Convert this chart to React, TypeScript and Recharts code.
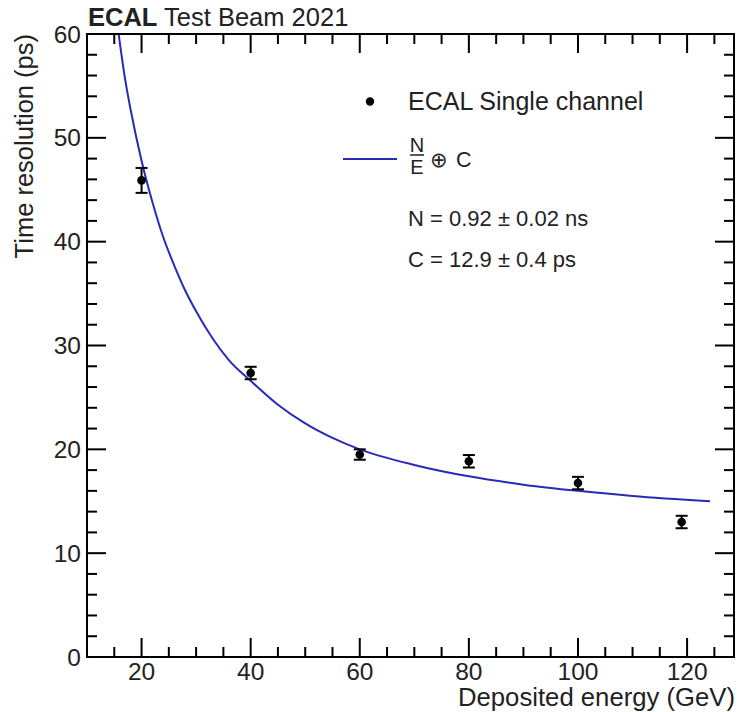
import React from "react";
import {
  ComposedChart,
  Line,
  Scatter,
  ErrorBar,
  XAxis,
  YAxis,
  Customized,
} from "recharts";

// Measured points: deposited energy (GeV), time resolution (ps), uncertainty (ps)
const energies = [20, 40, 60, 80, 100, 119];
const resolution = [45.9, 27.35, 19.5, 18.85, 16.75, 13.0];
const resolutionErr = [1.2, 0.6, 0.5, 0.6, 0.6, 0.6];

// Fitted N/E (+) C curve, sampled along the energy axis
const fitEnergy = [15.8, 17, 18, 20, 22, 24, 26, 28, 30, 33, 36, 40, 45, 50, 55, 60, 70, 80, 90, 100, 110, 124.2];
const fitResolution = [60, 55.6, 52.7, 47.8, 43.8, 40.4, 37.7, 35.3, 33.3, 30.7, 28.6, 26.6, 24.3, 22.5, 21.1, 20.0, 18.5, 17.4, 16.6, 16.0, 15.5, 15.0];

// Axis ticks (ROOT style: majors labelled, minors unlabelled)
const xTicks = [15, 20, 25, 30, 35, 40, 45, 50, 55, 60, 65, 70, 75, 80, 85, 90, 95, 100, 105, 110, 115, 120, 125];
const xMajorTicks = [20, 40, 60, 80, 100, 120];
const yTicks = [0, 2, 4, 6, 8, 10, 12, 14, 16, 18, 20, 22, 24, 26, 28, 30, 32, 34, 36, 38, 40, 42, 44, 46, 48, 50, 52, 54, 56, 58, 60];
const yMajorTicks = [0, 10, 20, 30, 40, 50, 60];

const points = energies.map((e, i) => ({ e, t: resolution[i], err: resolutionErr[i] }));
const fit = fitEnergy.map((e, i) => ({ e, t: fitResolution[i] }));

const FONT = "'Liberation Sans', Arial, Helvetica, sans-serif";
const TEXT = "#222";
const FIT_COLOR = "#2a2ab8";
const MAJOR = 19;
const MINOR = 10;

const BottomTick = (props: any) => {
  const { x, y, payload } = props;
  const major = xMajorTicks.includes(payload.value);
  return (
    <g>
      <line x1={x} x2={x} y1={y} y2={y - (major ? MAJOR : MINOR)} stroke="#000" strokeWidth={2} />
      {major && (
        <text x={x} y={y + 23} textAnchor="middle" fontSize={24.5} fontFamily={FONT} fill={TEXT}>
          {payload.value}
        </text>
      )}
    </g>
  );
};

const TopTick = (props: any) => {
  const { x, y, payload } = props;
  const major = xMajorTicks.includes(payload.value);
  return <line x1={x} x2={x} y1={y} y2={y + (major ? MAJOR : MINOR)} stroke="#000" strokeWidth={2} />;
};

const LeftTick = (props: any) => {
  const { x, y, payload } = props;
  const major = yMajorTicks.includes(payload.value);
  return (
    <g>
      <line x1={x} x2={x + (major ? MAJOR : MINOR)} y1={y} y2={y} stroke="#000" strokeWidth={2} />
      {major && (
        <text x={x - 6} y={y + 8.5} textAnchor="end" fontSize={24.5} fontFamily={FONT} fill={TEXT}>
          {payload.value}
        </text>
      )}
    </g>
  );
};

const RightTick = (props: any) => {
  const { x, y, payload } = props;
  const major = yMajorTicks.includes(payload.value);
  return <line x1={x} x2={x - (major ? MAJOR : MINOR)} y1={y} y2={y} stroke="#000" strokeWidth={2} />;
};

const Dot = (props: any) => {
  const { cx, cy } = props;
  return <circle cx={cx} cy={cy} r={4.3} fill="#000" />;
};

// Title, axis titles and legend box
const Annotations = () => (
  <g fontFamily={FONT} fill={TEXT}>
    <text x={88} y={26} fontSize={25.5}>
      <tspan fontWeight="bold">ECAL</tspan>
      <tspan> Test Beam 2021</tspan>
    </text>
    <text x={33} y={34} fontSize={25.5} textAnchor="end" transform="rotate(-90, 33, 34)">
      Time resolution (ps)
    </text>
    <text x={735} y={706} fontSize={25.7} textAnchor="end">
      Deposited energy (GeV)
    </text>

    <circle cx={370} cy={101.5} r={4.2} fill="#000" />
    <text x={408} y={110} fontSize={25}>
      ECAL Single channel
    </text>

    <line x1={343} x2={397} y1={159} y2={159} stroke={FIT_COLOR} strokeWidth={2} />
    <text x={417} y={152} fontSize={20} textAnchor="middle">N</text>
    <line x1={410} x2={424} y1={155} y2={155} stroke={TEXT} strokeWidth={1.5} />
    <text x={417} y={174} fontSize={20} textAnchor="middle">E</text>
    <text x={430} y={167} fontSize={21} fontFamily="'DejaVu Sans', sans-serif">⊕</text>
    <text x={456} y={167} fontSize={21.5}>C</text>

    <text x={408} y={226} fontSize={22}>N = 0.92 ± 0.02 ns</text>
    <text x={408} y={267} fontSize={22}>C = 12.9 ± 0.4 ps</text>
  </g>
);

export default function App() {
  const axisLine = { stroke: "#000", strokeWidth: 2, strokeLinecap: "square" as const };
  return (
    <div style={{ position: "absolute", left: 0, top: 0, background: "#fff" }}>
      <ComposedChart width={748} height={712} margin={{ top: 33, right: 13, bottom: 54, left: 86 }}>
        <XAxis
          xAxisId="bottom"
          type="number"
          dataKey="e"
          domain={[10, 128.6]}
          allowDataOverflow
          ticks={xTicks}
          interval={0}
          height={1}
          tickSize={0}
          tickMargin={0}
          tickLine={false}
          axisLine={axisLine}
          tick={<BottomTick />}
        />
        <XAxis
          xAxisId="top"
          orientation="top"
          type="number"
          dataKey="e"
          domain={[10, 128.6]}
          allowDataOverflow
          ticks={xTicks}
          interval={0}
          height={1}
          tickSize={0}
          tickMargin={0}
          tickLine={false}
          axisLine={axisLine}
          tick={<TopTick />}
        />
        <YAxis
          yAxisId="left"
          type="number"
          domain={[0, 60]}
          allowDataOverflow
          ticks={yTicks}
          interval={0}
          width={1}
          tickSize={0}
          tickMargin={0}
          tickLine={false}
          axisLine={axisLine}
          tick={<LeftTick />}
        />
        <YAxis
          yAxisId="right"
          orientation="right"
          type="number"
          domain={[0, 60]}
          allowDataOverflow
          ticks={yTicks}
          interval={0}
          width={1}
          tickSize={0}
          tickMargin={0}
          tickLine={false}
          axisLine={axisLine}
          tick={<RightTick />}
        />
        <Line
          xAxisId="bottom"
          yAxisId="left"
          data={fit}
          dataKey="t"
          type="monotone"
          stroke={FIT_COLOR}
          strokeWidth={2}
          dot={false}
          activeDot={false}
          isAnimationActive={false}
        />
        <Scatter
          xAxisId="bottom"
          yAxisId="left"
          data={points}
          dataKey="t"
          shape={<Dot />}
          isAnimationActive={false}
        >
          <ErrorBar dataKey="err" direction="y" width={6} stroke="#000" strokeWidth={2} isAnimationActive={false} />
        </Scatter>
        <Customized component={<Annotations />} />
      </ComposedChart>
    </div>
  );
}
